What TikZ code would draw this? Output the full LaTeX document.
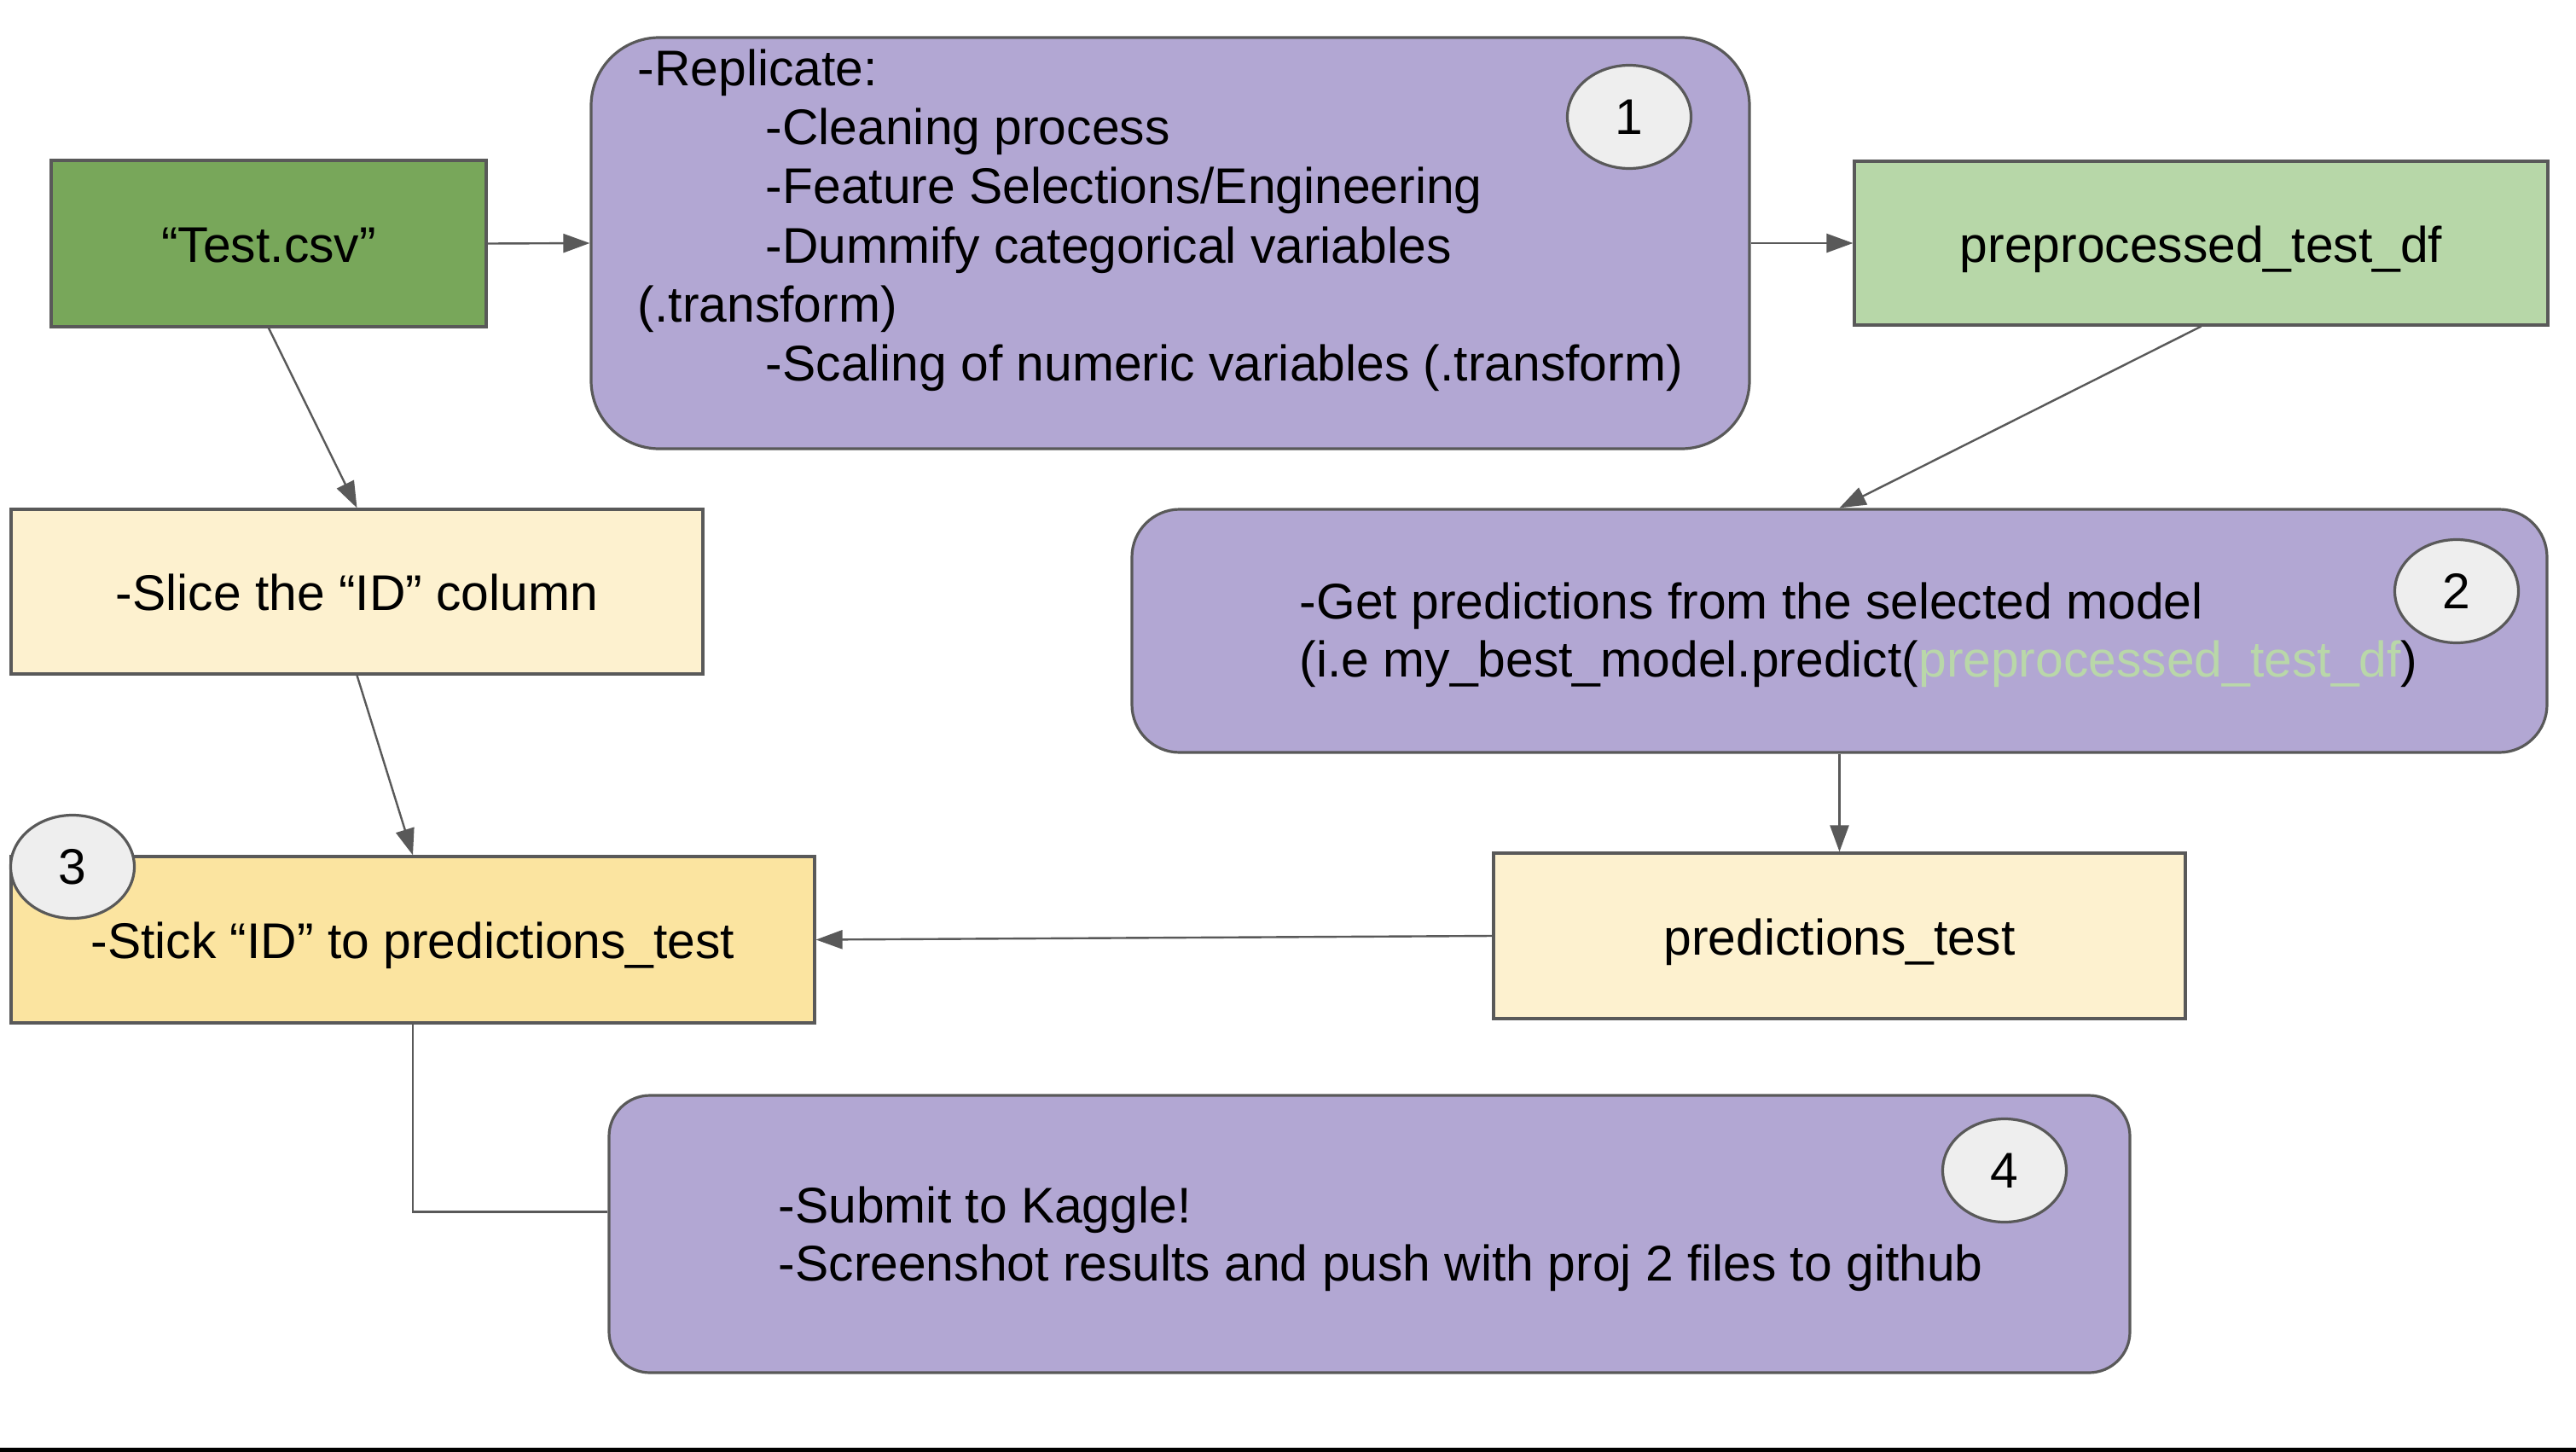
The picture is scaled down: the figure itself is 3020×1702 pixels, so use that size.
\documentclass[tikz,border=0pt]{standalone}
\usepackage{fontspec}
\setmainfont{Liberation Sans}
\usetikzlibrary{arrows.meta,shapes.geometric}
\definecolor{edgegray}{HTML}{595959}
\definecolor{darkgreen}{HTML}{78A75A}
\definecolor{lightgreen}{HTML}{B7D7A8}
\definecolor{lavender}{HTML}{B2A7D3}
\definecolor{paleyellow}{HTML}{FDF1CF}
\definecolor{yellowbox}{HTML}{FBE4A0}
\definecolor{circgray}{HTML}{EEEEEE}
\definecolor{greentext}{HTML}{B9D7A9}
\begin{document}
\begin{tikzpicture}[x=0.25pt,y=-0.25pt,
  font=\fontsize{14.7pt}{17.3pt}\selectfont,
  box/.style={draw=edgegray, line width=0.8pt, rectangle, inner sep=0pt, align=center,
    text height=11pt, text depth=0pt},
  rbox/.style={draw=edgegray, line width=0.8pt, rectangle, inner sep=0pt},
  num/.style={ellipse, draw=edgegray, fill=circgray, line width=0.8pt,
    minimum width=36.25pt, minimum height=30.25pt, inner sep=0pt},
  txt/.style={anchor=base west, inner sep=0pt},
  conn/.style={draw=edgegray, line width=0.6pt, -{Triangle[length=7.75pt,width=5.5pt]}},
  plainconn/.style={draw=edgegray, line width=0.6pt}]
\useasboundingbox (0,0) rectangle (3020,1702);
\fill[white] (0,0) rectangle (3020,1702);
\fill[black] (0,1697) rectangle (3020,1702);

% boxes
\node[box, fill=darkgreen, minimum width=127.5pt, minimum height=48.75pt] (test) at (315,285.5) {“Test.csv”};
\node[rbox, fill=lavender, rounded corners=20pt, minimum width=339.5pt, minimum height=120.5pt] (rep) at (1372,285) {};
\node[box, fill=lightgreen, minimum width=203.25pt, minimum height=48pt] (pre) at (2580.5,285) {preprocessed\_test\_df};
\node[box, fill=paleyellow, minimum width=202.75pt, minimum height=48.25pt] (slice) at (418.5,693.5) {-Slice the “ID” column};
\node[rbox, fill=lavender, rounded corners=14pt, minimum width=414.75pt, minimum height=71.25pt] (getpred) at (2156.5,739.5) {};
\node[box, fill=paleyellow, minimum width=202.75pt, minimum height=48.5pt] (predtest) at (2156.5,1097) {predictions\_test};
\node[box, fill=yellowbox, minimum width=235.5pt, minimum height=48.75pt] (stick) at (484,1101.5) {-Stick “ID” to predictions\_test};
\node[rbox, fill=lavender, rounded corners=12pt, minimum width=445.75pt, minimum height=81.25pt] (submit) at (1605.5,1446.5) {};

% texts inside rounded boxes
\node[txt] (rep1) at (747,100) {-Replicate:};
\node[txt] (rep2) at (897,169) {-Cleaning process};
\node[txt] (rep3) at (897,238.5) {-Feature Selections/Engineering};
\node[txt] (rep4) at (897,308) {-Dummify categorical variables};
\node[txt] (rep5) at (747,377) {(.transform)};
\node[txt] (rep6) at (897,446.5) {-Scaling of numeric variables (.transform)};

\node[txt] (gp1) at (1523,725) {-Get predictions from the selected model};
\node[txt] (gp2) at (1523,793) {(i.e my\_best\_model.predict(\textcolor{greentext}{preprocessed\_test\_df})};

\node[txt] (sub1) at (912,1433) {-Submit to Kaggle!};
\node[txt] (sub2) at (912,1501) {-Screenshot results and push with proj 2 files to github};

% number badges
\node[num] (c1) at (1910,137) {1};
\node[num] (c2) at (2880,693) {2};
\node[num] (c3) at (85,1016) {3};
\node[num] (c4) at (2350,1372) {4};

% connectors
\draw[conn] (test.east) -- (rep.west);
\draw[conn] (rep.east) -- (pre.west);
\draw[conn] (test.south) -- (slice.north);
\draw[conn] (pre.south) -- (getpred.north);
\draw[conn] (slice.south) -- (stick.north);
\draw[conn] (getpred.south) -- (predtest.north);
\draw[conn] (predtest.west) -- (stick.east);
\draw[plainconn] (stick.south) |- ([yshift=6.5pt]submit.west);
\end{tikzpicture}
\end{document}
